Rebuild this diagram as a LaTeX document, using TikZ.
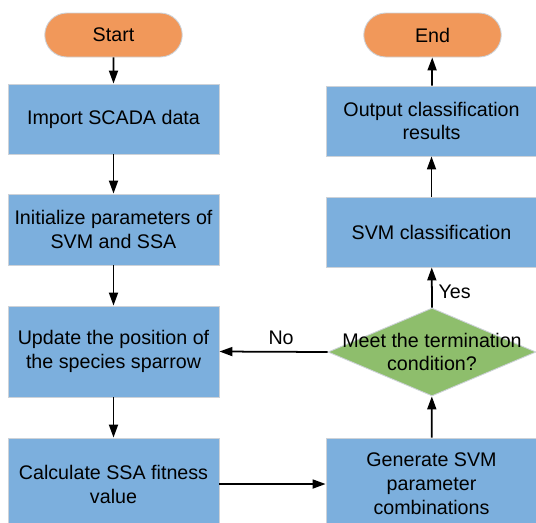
\documentclass[tikz,border=0pt]{standalone}
\usepackage{fontspec}
\setmainfont{Liberation Sans}
\usetikzlibrary{arrows.meta,shapes.geometric,shapes.misc}
\definecolor{termc}{RGB}{241,152,90}
\definecolor{procc}{RGB}{124,175,221}
\definecolor{decc}{RGB}{142,190,108}
\definecolor{rimc}{RGB}{205,210,216}

\begin{document}
\begin{tikzpicture}[x=0.02cm,y=-0.02cm,
    font=\fontsize{11.2}{13.6}\selectfont,
    term/.style={rounded rectangle,draw=rimc,line width=0.5pt,fill=termc,minimum width=2.82cm,minimum height=0.88cm,inner sep=1pt},
    proc/.style={rectangle,draw=rimc,line width=0.5pt,fill=procc,minimum width=4.22cm,minimum height=1.4cm,align=center,inner sep=1pt},
    decide/.style={diamond,draw=rimc,line width=0.5pt,fill=decc,minimum width=4.16cm,minimum height=1.76cm,inner sep=0pt},
    txt/.style={align=center,inner sep=0pt},
    arr/.style={-{Triangle[length=2.6mm,width=1.8mm]},line width=1pt,black}]
    \useasboundingbox (0,0) rectangle (536,522);
    % left column
    \node[term] (start) at (113.5,35){Start};
    \node[proc] (import) at (113.5,119){Import SCADA data};
    \node[proc,minimum height=1.42cm] (init) at (113.5,229.5){Initialize parameters of\\SVM and SSA};
    \node[proc,minimum height=1.82cm] (update) at (113.5,351.5){Update the position of\\the species sparrow};
    \node[proc,minimum height=1.84cm] (calc) at (113.5,484){Calculate SSA fitness\\value};
    % right column
    \node[proc,minimum height=1.84cm] (gen) at (431.5,484){Generate SVM\\parameter\\combinations};
    \node[decide] (dec) at (432,352){};
    \node[txt] (dectext) at (dec.center){Meet the termination\\condition?};
    \node[proc] (svm) at (431.5,232){SVM classification};
    \node[proc] (out) at (431.5,121){Output classification\\results};
    \node[term] (end) at (432.5,35){End};
    % connectors
    \draw[arr] (start) -- (import);
    \draw[arr] (import) -- (init);
    \draw[arr] (init) -- (update);
    \draw[arr] (update) -- (calc);
    \draw[arr] (calc) -- (gen);
    \draw[arr] (gen) -- (dec);
    \draw[arr] (dec.north) -- (svm) node[pos=0.4,right] (yeslbl){Yes};
    \draw[arr] (dec.west) -- (update.east) node[pos=0.43,above] (nolbl){No};
    \draw[arr] (svm) -- (out);
    \draw[arr] (out) -- (end);
\end{tikzpicture}
\end{document}
